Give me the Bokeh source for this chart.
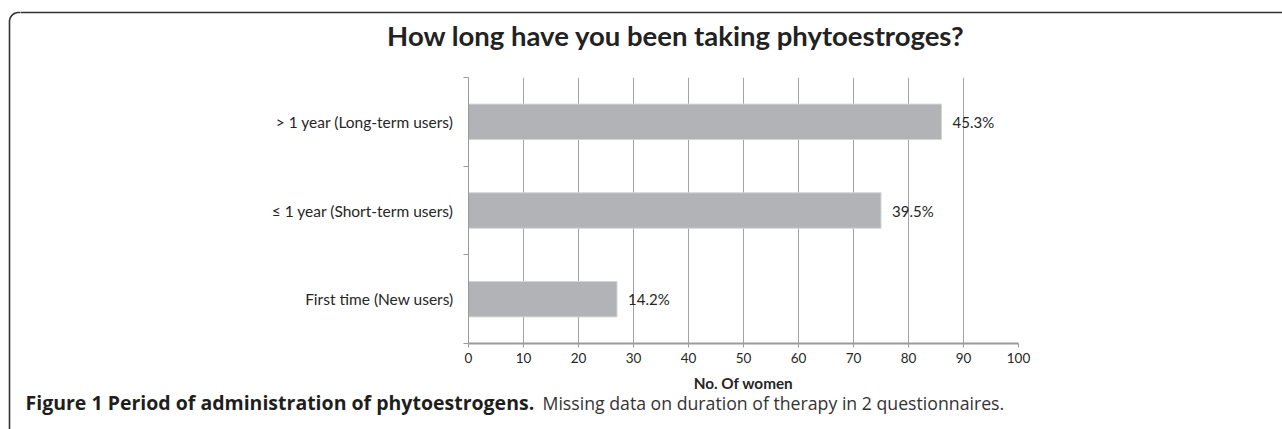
import numpy as np
from bokeh.plotting import figure
from bokeh.layouts import row, column
from bokeh.models import (FactorRange, Range1d, LinearAxis, CategoricalAxis, FixedTicker,
                          Grid, ColumnDataSource)
from bokeh.core.properties import value
from bokeh.embed import file_html
from bokeh.resources import INLINE

# ---- data ----
categories = ["First time (New users)", "\u2264 1 year (Short-term users)", "> 1 year (Long-term users)"]
counts = [27, 75, 86]
percent_labels = ["14.2%", "39.5%", "45.3%"]
x_ticks = [0, 10, 20, 30, 40, 50, 60, 70, 80, 90, 100]
title_text = "How long have you been taking phytoestroges?"
x_axis_title = "No. Of women"
caption_bold = "Figure 1 Period of administration of phytoestrogens."
caption_text = "Missing data on duration of therapy in 2 questionnaires."

# ---- page geometry (pixels) ----
PW, PH = 1282, 429
STRIP = 20                 # left strip holding the box's left edge
HEAD_H = 60                # title band
FRAME_L, FRAME_R, FRAME_T, FRAME_B = 468, 1018, 77, 343
MAIN_BOTTOM = FRAME_B + 28
MAIN_H = MAIN_BOTTOM - HEAD_H
CAP_H = PH - MAIN_BOTTOM   # band with axis title and figure caption
BOX_X, BOX_Y, BOX_R = 9, 12, 9

TEXT = "#262626"
GRID = "#A3A3A3"
AXIS = "#9A9A9A"
BOX = "#333333"
CHART_FONT = "Lato"


def deco_fig(width, height, x0, y0):
    """Figure whose whole canvas is its frame, in page-pixel coordinates."""
    f = figure(width=width, height=height, title=None,
               x_range=Range1d(x0, x0 + width), y_range=Range1d(y0 + height, y0),
               x_axis_type=None, y_axis_type=None, min_border=0, frame_align=False,
               output_backend="svg", toolbar_location=None)
    f.outline_line_color = None
    f.background_fill_color = "white"
    f.border_fill_color = "white"
    return f


# ---- left strip: left edge of the box with its rounded corner ----
strip = deco_fig(STRIP, PH, 0, 0)
ang = np.linspace(np.pi, 1.5 * np.pi, 16)
arc_x = BOX_X + BOX_R + BOX_R * np.cos(ang)
arc_y = BOX_Y + BOX_R + BOX_R * np.sin(ang)
strip.line(np.concatenate([[BOX_X], arc_x, [STRIP + 5]]),
           np.concatenate([[PH + 5], arc_y, [BOX_Y]]),
           line_color=BOX, line_width=1.6)

# ---- header: top edge of the box and chart title ----
head = deco_fig(PW - STRIP, HEAD_H, STRIP, 0)
head.segment(x0=[STRIP - 5], y0=[BOX_Y], x1=[PW + 5], y1=[BOX_Y],
             line_color=BOX, line_width=1.6)
head.text(x=[675.5], y=[34.5], text=[title_text],
          text_align="center", text_baseline="middle",
          text_font=value(CHART_FONT), text_font_style="bold",
          text_font_size="27.5px", text_color="#222222")

# ---- main chart ----
p = figure(width=PW - STRIP, height=MAIN_H, title=None,
           x_range=Range1d(0, 100),
           y_range=FactorRange(factors=categories, range_padding=0),
           x_axis_type=None, y_axis_type=None, frame_align=False,
           output_backend="svg", toolbar_location=None,
           min_border_left=FRAME_L - STRIP, min_border_right=PW - FRAME_R,
           min_border_top=FRAME_T - HEAD_H, min_border_bottom=MAIN_BOTTOM - FRAME_B)
p.outline_line_color = None
p.background_fill_color = "white"
p.border_fill_color = "white"

p.add_layout(Grid(dimension=0, ticker=FixedTicker(ticks=x_ticks),
                  grid_line_color=GRID, grid_line_width=1))

src = ColumnDataSource(dict(cat=categories, n=counts, lab=percent_labels))
p.hbar(y="cat", left=0, right="n", height=0.4, source=src,
       fill_color="#B2B3B7", line_color="#D4D4D6", line_width=1)
p.text(x="n", y="cat", text="lab", source=src, x_offset=11,
       text_align="left", text_baseline="middle",
       text_font=value(CHART_FONT), text_font_size="15px", text_color=TEXT)

xa = LinearAxis(ticker=FixedTicker(ticks=x_ticks))
xa.axis_line_color = AXIS
xa.axis_line_width = 2
xa.major_tick_line_color = AXIS
xa.major_tick_in = 0
xa.major_tick_out = 4
xa.minor_tick_line_color = None
xa.major_label_standoff = 5
xa.major_label_text_font = CHART_FONT
xa.major_label_text_font_size = "13.5px"
xa.major_label_text_color = TEXT
p.add_layout(xa, "below")

# inner y axis: ticks on category boundaries only
ya_ticks = LinearAxis(ticker=FixedTicker(ticks=[0, 1, 2, 3]),
                      major_label_overrides={0: "", 1: "", 2: "", 3: ""})
ya_ticks.axis_line_color = AXIS
ya_ticks.major_tick_line_color = AXIS
ya_ticks.major_tick_in = 0
ya_ticks.major_tick_out = 5
ya_ticks.minor_tick_line_color = None
ya_ticks.major_label_standoff = 0
p.add_layout(ya_ticks, "left")

# outer y axis: category names
ya = CategoricalAxis()
ya.axis_line_color = None
ya.major_tick_line_color = None
ya.major_label_standoff = 4
ya.major_label_text_font = CHART_FONT
ya.major_label_text_font_size = "15.5px"
ya.major_label_text_color = TEXT
p.add_layout(ya, "left")

# ---- bottom band: x-axis title and figure caption ----
cap = deco_fig(PW - STRIP, CAP_H, STRIP, MAIN_BOTTOM)
cap.text(x=[(FRAME_L + FRAME_R) / 2], y=[382.5], text=[x_axis_title],
         text_align="center", text_baseline="middle",
         text_font=value(CHART_FONT), text_font_style="bold",
         text_font_size="15.3px", text_color=TEXT)
cap.text(x=[25], y=[402], text=[caption_bold],
         text_align="left", text_baseline="middle",
         text_font=value("Open Sans"), text_font_style="bold",
         text_font_size="19.5px", text_color="#1E1E1E")
cap.text(x=[542], y=[402], text=[caption_text],
         text_align="left", text_baseline="middle",
         text_font=value("Open Sans"), text_font_size="17.7px",
         text_color="#333333")

layout = row(strip, column(head, p, cap, spacing=0), spacing=0)
open("out.html", "w").write(file_html(layout, INLINE))
